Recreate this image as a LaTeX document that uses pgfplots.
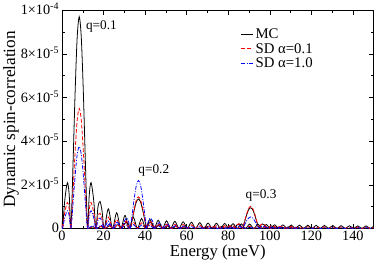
\documentclass[border=0pt]{standalone}
\usepackage{fontspec}
\setmainfont{Liberation Serif}
\usepackage{pgfplots}
\usepackage{pgfplotstable}
\pgfplotsset{compat=1.18}

% q = 0.1 (values in units of 1e-5)
\pgfplotstableread{
E mc sda sdb
0 0.35 0.20 0.135
0.3 0 0 0
1.3 1.25 0.71 0.48
2.6 2.10 1.19 0.81
3.5 1.51 0.86 0.58
4.3 0 0 0
5.3 2.91 1.65 1.13
6.3 6.18 3.50 2.39
7.3 8.73 4.95 3.38
8.3 9.70 5.50 3.75
9.3 8.73 4.95 3.38
10.3 6.18 3.50 2.39
11.3 2.91 1.65 1.13
12.3 0 0 0
13.1 1.51 0.86 0.58
14.0 2.10 1.19 0.81
15.3 1.25 0.71 0.48
16.3 0 0 0
17.3 0.97 0.55 0.375
18.3 1.24 0.70 0.48
19.3 0.79 0.45 0.31
20.3 0 0 0
22.3 0.90 0.52 0.34
24.3 0 0 0
26.3 0.72 0.42 0.27
28.3 0 0 0
30.3 0.60 0.35 0.22
32.3 0 0 0
34.3 0.52 0.30 0.18
36.3 0 0 0
38.3 0.46 0.26 0.16
40.3 0 0 0
42.3 0.42 0.24 0.14
44.3 0 0 0
46.3 0.38 0.22 0.13
48.3 0 0 0
50.3 0.35 0.20 0.12
52.3 0 0 0
54.3 0.33 0.19 0.11
56.3 0 0 0
58.3 0.31 0.18 0.10
60.3 0 0 0
62.3 0.29 0.17 0.09
64.3 0 0 0
66.3 0.27 0.16 0.08
68.3 0 0 0
70.3 0.25 0.15 0.08
72.3 0 0 0
74.3 0.24 0.14 0.07
76.3 0 0 0
78.3 0.23 0.13 0.07
80.3 0 0 0
82.3 0.22 0.12 0.07
84.3 0 0 0
86.3 0.21 0.12 0.06
88.3 0 0 0
90.3 0.20 0.11 0.06
92.3 0 0 0
94.3 0.19 0.10 0.055
96.3 0 0 0
98.3 0.18 0.10 0.055
100.3 0 0 0
102.3 0.17 0.095 0.05
104.3 0 0 0
106.3 0.165 0.09 0.05
108.3 0 0 0
110.3 0.16 0.09 0.045
112.3 0 0 0
114.3 0.155 0.085 0.045
116.3 0 0 0
118.3 0.15 0.08 0.04
120.3 0 0 0
122.3 0.145 0.08 0.04
124.3 0 0 0
126.3 0.14 0.075 0.04
128.3 0 0 0
130.3 0.135 0.075 0.04
132.3 0 0 0
134.3 0.13 0.07 0.04
136.3 0 0 0
138.3 0.125 0.07 0.037
140.3 0 0 0
142.3 0.12 0.065 0.035
144.3 0 0 0
146.3 0.12 0.065 0.035
148.3 0 0 0
150 0.11 0.06 0.033
}\qone

% q = 0.2
\pgfplotstableread{
E mc sda sdb
12.8 0 0 0
14.8 0.078 0.084 0.128
16.8 0 0 0
18.8 0.096 0.103 0.156
20.8 0 0 0
22.8 0.123 0.132 0.200
24.8 0 0 0
26.8 0.171 0.184 0.279
28.8 0 0 0
30.0 0.205 0.220 0.334
31.1 0.293 0.315 0.477
32.0 0.211 0.226 0.343
32.8 0 0 0
33.8 0.405 0.435 0.660
34.8 0.860 0.924 1.401
35.8 1.215 1.305 1.98
36.8 1.35 1.45 2.2
37.8 1.215 1.305 1.98
38.8 0.860 0.924 1.401
39.8 0.405 0.435 0.660
40.8 0 0 0
41.6 0.211 0.226 0.343
42.5 0.293 0.315 0.477
43.6 0.205 0.220 0.334
44.8 0 0 0
46.8 0.171 0.184 0.279
48.8 0 0 0
50.8 0.123 0.132 0.200
52.8 0 0 0
54.8 0.096 0.103 0.156
56.8 0 0 0
58.8 0.078 0.084 0.128
60.8 0 0 0
}\qtwo

% q = 0.3
\pgfplotstableread{
E mc sda sdb
66.8 0 0 0
68.8 0.055 0.059 0.031
70.8 0 0 0
72.8 0.067 0.072 0.038
74.8 0 0 0
76.8 0.086 0.093 0.048
78.8 0 0 0
80.8 0.121 0.130 0.067
82.8 0 0 0
84.0 0.144 0.155 0.081
85.1 0.206 0.221 0.115
86.0 0.148 0.159 0.083
86.8 0 0 0
87.8 0.285 0.306 0.159
88.8 0.605 0.650 0.338
89.8 0.855 0.918 0.477
90.8 0.95 1.02 0.53
91.8 0.855 0.918 0.477
92.8 0.605 0.650 0.338
93.8 0.285 0.306 0.159
94.8 0 0 0
95.6 0.148 0.159 0.083
96.5 0.206 0.221 0.115
97.6 0.144 0.155 0.081
98.8 0 0 0
100.8 0.121 0.130 0.067
102.8 0 0 0
104.8 0.086 0.093 0.048
106.8 0 0 0
108.8 0.067 0.072 0.038
110.8 0 0 0
112.8 0.055 0.059 0.031
114.8 0 0 0
}\qthree

\begin{document}
\begin{tikzpicture}[font=\fontsize{14}{16}\selectfont]
\begin{axis}[
  scale only axis, width=317pt, height=222pt,
  xmin=0, xmax=150, ymin=0, ymax=10,
  xtick={0,20,...,140}, minor x tick num=1,
  ytick={0,2,4,6,8,10}, minor y tick num=1,
  yticklabels={0, 2×10\textsuperscript{-5}, 4×10\textsuperscript{-5}, 6×10\textsuperscript{-5}, 8×10\textsuperscript{-5}, 1×10\textsuperscript{-4}},
  /pgf/number format/assume math mode=true,
  tick align=inside, major tick length=5pt, minor tick length=3pt,
  tick label style={font=\fontsize{14.5}{16}\selectfont},
  yticklabel style={xshift=0.5pt, yshift=1pt},
  xticklabel style={yshift=0.5pt},
  xlabel={Energy (meV)}, ylabel={Dynamic spin-correlation},
  xlabel style={font=\fontsize{17}{19}\selectfont, yshift=2.5pt},
  ylabel style={font=\fontsize{17.5}{19}\selectfont, yshift=-5pt},
  axis line style={line width=0.6pt},
  every tick/.style={line width=0.5pt, black},
  legend style={draw=none, fill=none, at={(rel axis cs:0.57,0.93)}, anchor=north west,
    font=\fontsize{15}{15}\selectfont, row sep=-0.5pt, inner sep=1pt},
  legend cell align=left,
  legend image code/.code={\draw[#1, line width=1pt] (0pt,0pt) -- (12pt,0pt);},
  clip=true,
]
\addplot[color=black, line width=0.8pt, smooth] table[x=E, y=mc] {\qone};
\addlegendentry{MC}
\addplot[color=red, line width=0.8pt, smooth, dash pattern=on 4pt off 2pt] table[x=E, y=sda] {\qone};
\addlegendentry{SD α=0.1}
\addplot[color=blue, line width=0.8pt, smooth, dash pattern=on 4pt off 1.5pt on 1pt off 1.5pt] table[x=E, y=sdb] {\qone};
\addlegendentry{SD α=1.0}
\addplot[color=black, line width=0.8pt, smooth, forget plot] table[x=E, y=mc] {\qtwo};
\addplot[color=red, line width=0.8pt, smooth, dash pattern=on 4pt off 2pt, forget plot] table[x=E, y=sda] {\qtwo};
\addplot[color=blue, line width=0.8pt, smooth, dash pattern=on 4pt off 1.5pt on 1pt off 1.5pt, forget plot] table[x=E, y=sdb] {\qtwo};
\addplot[color=black, line width=0.8pt, smooth, forget plot] table[x=E, y=mc] {\qthree};
\addplot[color=red, line width=0.8pt, smooth, dash pattern=on 4pt off 2pt, forget plot] table[x=E, y=sda] {\qthree};
\addplot[color=blue, line width=0.8pt, smooth, dash pattern=on 4pt off 1.5pt on 1pt off 1.5pt, forget plot] table[x=E, y=sdb] {\qthree};
\node[font=\fontsize{13.5}{15}\selectfont] at (axis cs:19,9.25) {q=0.1};
\node[font=\fontsize{13.5}{15}\selectfont] at (axis cs:44.2,2.66) {q=0.2};
\node[font=\fontsize{13.5}{15}\selectfont] at (axis cs:95.8,1.53) {q=0.3};
\end{axis}
\end{tikzpicture}
\end{document}
